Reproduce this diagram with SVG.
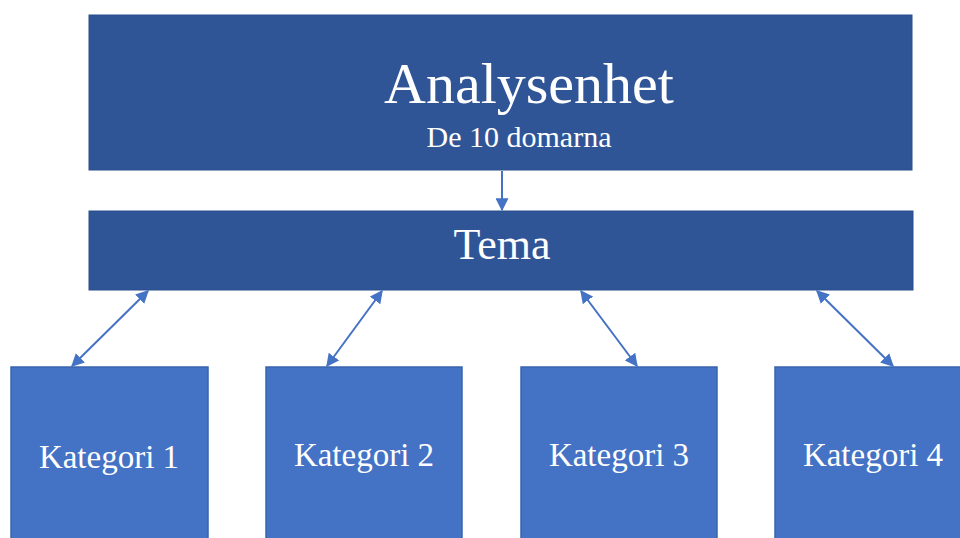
<svg xmlns="http://www.w3.org/2000/svg" width="960" height="538" viewBox="0 0 960 538">
<defs>
<style>
.dark{fill:#2F5597;stroke:#2B4F8C;stroke-width:1}
.cat{fill:#4472C4;stroke:#3A64AE;stroke-width:1.5}
.t{font-family:"Liberation Serif",serif;fill:#fff;text-anchor:middle}
.c{stroke:#4472C4;stroke-width:2;fill:none}
</style>
<marker id="ah" viewBox="0 0 10 10" refX="9" refY="5" markerWidth="6.5" markerHeight="6.5" orient="auto-start-reverse" markerUnits="strokeWidth">
<path d="M0,0 L10,5 L0,10 z" fill="#4472C4"/>
</marker>
</defs>
<rect width="960" height="538" fill="#fff"/>
<g id="analysenhet">
<rect class="dark" x="89" y="15" width="823" height="155"/>
<text class="t" x="529" y="103" font-size="58">Analysenhet</text>
<text class="t" x="519" y="147" font-size="30">De 10 domarna</text>
</g>
<g id="tema">
<rect class="dark" x="89" y="211" width="824" height="79"/>
<text class="t" x="502" y="259" font-size="44">Tema</text>
</g>
<g id="kategori1">
<rect class="cat" x="11" y="367" width="197" height="180"/>
<text class="t" x="109" y="468" font-size="33">Kategori 1</text>
</g>
<g id="kategori2">
<rect class="cat" x="266" y="367" width="196" height="180"/>
<text class="t" x="364" y="466" font-size="33">Kategori 2</text>
</g>
<g id="kategori3">
<rect class="cat" x="521" y="367" width="196" height="180"/>
<text class="t" x="619" y="466" font-size="33">Kategori 3</text>
</g>
<g id="kategori4">
<rect class="cat" x="775" y="367" width="197" height="180"/>
<text class="t" x="873" y="466" font-size="33">Kategori 4</text>
</g>
<g id="connectors">
<line class="c" x1="502" y1="171" x2="502" y2="210" marker-end="url(#ah)"/>
<line class="c" x1="148" y1="291" x2="72" y2="366" marker-start="url(#ah)" marker-end="url(#ah)"/>
<line class="c" x1="382" y1="291" x2="327" y2="366" marker-start="url(#ah)" marker-end="url(#ah)"/>
<line class="c" x1="581" y1="291" x2="637" y2="366" marker-start="url(#ah)" marker-end="url(#ah)"/>
<line class="c" x1="817" y1="291" x2="893" y2="366" marker-start="url(#ah)" marker-end="url(#ah)"/>
</g>
</svg>
